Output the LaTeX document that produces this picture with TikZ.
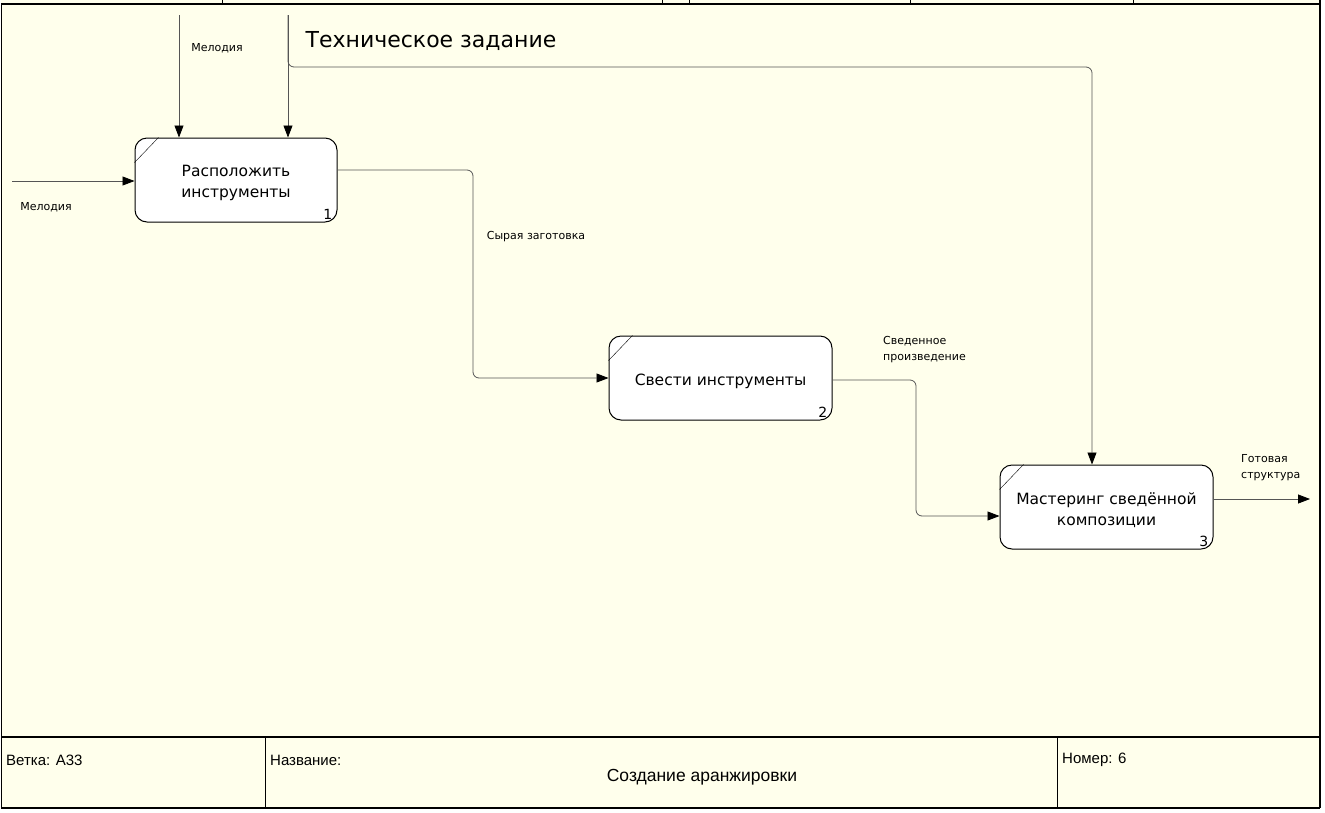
\documentclass[tikz,border=0pt]{standalone}
\usepackage{fontspec}
\setmainfont{DejaVu Sans}
\newfontfamily\piedefont{Liberation Sans}
\usetikzlibrary{arrows.meta}
\definecolor{sfondo}{RGB}{255,255,236}
\definecolor{linea}{RGB}{85,85,85}
\tikzset{
  blocco/.style={draw,fill=white,rounded corners=12pt,line width=1pt,minimum height=84pt,align=center,text height=18pt,font=\fontsize{15.5}{21}\selectfont},
  blocco2/.style={blocco,text height=39pt},
  freccia/.style={draw=linea,line width=0.8pt,rounded corners=6pt,-{Triangle[length=12pt,width=9pt,black]}},
  etichetta/.style={font=\fontsize{11}{16.5}\selectfont,align=left,inner sep=0pt},
  numero/.style={font=\fontsize{14}{14}\selectfont,inner sep=1pt},
  piede/.style={font=\piedefont\fontsize{15}{18}\selectfont,inner sep=0pt},
}
\begin{document}
\begin{tikzpicture}[x=1pt,y=-1pt]
            %sfondo e cornice
            \useasboundingbox (0,0) rectangle (1325,812);
            \fill[white] (0,0) rectangle (1325,812);
            \fill[sfondo] (1,0) rectangle (1320,808);
            \draw[line width=1.5pt] (1,4) -- (1320,4);
            \draw[line width=1.5pt] (1.5,4) -- (1.5,808);
            \draw[line width=2pt] (1320,0) -- (1320,808);
            \foreach \x in {222,662,689,910,1133} \draw (\x,0) -- (\x,4);

            %cartiglio in basso
            \draw[line width=2pt] (1,737) -- (1320,737);
            \draw[line width=2pt] (1,808) -- (1320,808);
            \draw (265,737) -- (265,808);
            \draw (1057,737) -- (1057,808);
            \node[piede,anchor=west] (ramo) at (6,760) {Ветка: A33};
            \node[piede,anchor=west] (nome) at (270,760) {Название:};
            \node[piede,anchor=west] (num) at (1062,760) {Номер: 6};
            \node[piede,font=\piedefont\fontsize{17.5}{20}\selectfont] (titolo) at (702,777) {Создание аранжировки};

            %blocchi
            \node[blocco2,minimum width=202pt] (b1) at (236,180) {Расположить\\инструменты};
            \node[blocco,minimum width=223pt] (b2) at (720.5,378) {Свести инструменты};
            \node[blocco2,minimum width=213pt] (b3) at (1106.5,507) {Мастеринг сведённой\\композиции};

            %angoli e numeri dei blocchi
            \foreach \b/\n in {b1/1,b2/2,b3/3}{
                \draw ([yshift=-25pt]\b.north west) -- ([xshift=24pt]\b.north west);
                \node[numero,anchor=south east] (n\n) at ([xshift=-4pt,yshift=2pt]\b.south east) {\n};
            }

            %frecce di ingresso e controllo
            \coordinate (in1) at (12,181);
            \coordinate (c1) at (179,15);
            \coordinate (c2) at (288,15);
            \coordinate (gomito) at (288,67);
            \coordinate (c3) at (1092,67);
            \draw[freccia] (in1) -- (b1.west |- in1);
            \draw[freccia] (c1) -- (c1 |- b1.north);
            \draw[freccia] (c2) -- (c2 |- b1.north);
            \draw[freccia] (c2) -- (gomito) -- (c3) -- (c3 |- b3.north);

            %frecce tra i blocchi
            \coordinate (g1) at (473,0);
            \coordinate (g2) at (916,0);
            \coordinate (e3) at ([yshift=-9pt]b3.west);
            \coordinate (out3) at (1310,499);
            \draw[freccia] ([yshift=10pt]b1.east) -| (g1 |- b2.west) -- (b2.west);
            \draw[freccia] ([yshift=-2pt]b2.east) -| (g2 |- e3) -- (e3);
            \draw[freccia] ([yshift=8pt]b3.east) -- (out3);

            %etichette
            \node[etichetta] (l1) at (46,207) {Мелодия};
            \node[etichetta] (l2) at (217,48) {Мелодия};
            \node[etichetta,font=\fontsize{22}{24}\selectfont] (l3) at (431,41) {Техническое задание};
            \node[etichetta] (l4) at (536,237) {Сырая заготовка};
            \node[etichetta,anchor=north west] (l5) at (883,336) {Сведенное\\произведение};
            \node[etichetta,anchor=north west] (l6) at (1241,454) {Готовая\\структура};
\end{tikzpicture}
\end{document}
